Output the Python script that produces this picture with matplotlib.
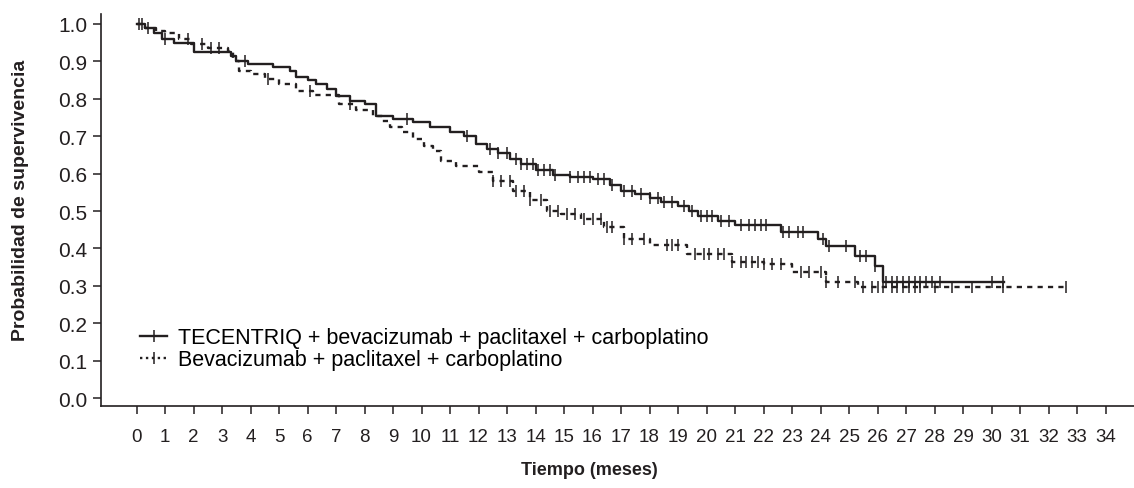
import numpy as np
import matplotlib
matplotlib.use('Agg')
import matplotlib.pyplot as plt
from matplotlib.lines import Line2D

# Kaplan-Meier steps (months, survival probability)
atezo_t = [0, 0.3, 0.6, 0.9, 1.3, 2.0, 3.3, 3.5, 3.9, 4.8, 5.4, 5.6, 6.0, 6.3, 6.7,
           7.0, 7.5, 8.0, 8.4, 9.0, 9.7, 10.3, 11.0, 11.5, 11.9, 12.3, 12.7, 13.1,
           13.5, 14.0, 14.6, 15.2, 16.0, 16.6, 17.0, 17.5, 18.0, 18.4, 19.0, 19.4,
           19.7, 20.4, 21.0, 22.6, 23.9, 24.2, 25.2, 25.9, 26.2, 30.43]
atezo_s = [1.0, 0.99, 0.975, 0.96, 0.95, 0.925, 0.915, 0.90, 0.894, 0.885, 0.875,
           0.858, 0.85, 0.839, 0.825, 0.808, 0.795, 0.786, 0.754, 0.745, 0.737,
           0.725, 0.711, 0.70, 0.679, 0.665, 0.655, 0.64, 0.625, 0.61, 0.597, 0.59,
           0.585, 0.57, 0.553, 0.545, 0.535, 0.523, 0.514, 0.50, 0.487, 0.474,
           0.462, 0.443, 0.425, 0.407, 0.38, 0.353, 0.309, 0.309]

bev_t = [0, 0.3, 0.7, 1.0, 1.5, 1.9, 2.5, 3.2, 3.4, 3.6, 4.0, 4.5, 5.0, 5.6, 6.2,
         7.1, 7.7, 8.3, 8.6, 8.9, 9.3, 9.7, 10.1, 10.4, 10.7, 11.2, 12.0, 12.5,
         13.2, 13.8, 14.4, 14.9, 15.6, 16.4, 17.1, 18.0, 19.3, 20.9, 22.0, 23.0,
         24.2, 25.3, 32.6]
bev_s = [1.0, 0.99, 0.98, 0.975, 0.96, 0.946, 0.935, 0.928, 0.90, 0.874, 0.865,
         0.852, 0.84, 0.821, 0.81, 0.786, 0.77, 0.754, 0.74, 0.724, 0.71, 0.692,
         0.675, 0.66, 0.634, 0.62, 0.603, 0.58, 0.554, 0.53, 0.50, 0.492, 0.478,
         0.456, 0.425, 0.409, 0.385, 0.364, 0.358, 0.336, 0.311, 0.296, 0.296]

# censored observations (months)
atezo_cens = [0.1, 1.0, 3.8, 9.5, 11.6, 12.4, 12.7, 13.0, 13.3, 13.5, 13.7, 13.9,
              14.1, 14.3, 14.5, 14.7, 15.2, 15.5, 15.7, 15.9, 16.2, 16.4, 16.7,
              17.1, 17.4, 17.7, 18.0, 18.3, 18.5, 18.8, 19.2, 19.5, 19.8, 20.0,
              20.2, 20.5, 20.8, 21.2, 21.5, 21.7, 21.9, 22.1, 22.7, 22.9, 23.2,
              23.4, 24.1, 24.3, 24.9, 25.4, 25.6, 25.9, 26.3, 26.5, 26.7, 26.9,
              27.1, 27.3, 27.5, 27.7, 27.9, 28.2, 30.0, 30.4]
bev_cens = [0.2, 0.4, 1.8, 2.3, 2.6, 2.9, 4.6, 6.1, 7.5, 12.5, 12.8, 13.1, 13.3,
            13.6, 13.8, 14.2, 14.5, 14.8, 15.1, 15.4, 15.7, 16.0, 16.3, 16.5,
            16.7, 17.1, 17.4, 17.8, 18.6, 18.8, 19.0, 19.6, 19.9, 20.1, 20.4,
            20.6, 20.9, 21.2, 21.4, 21.6, 21.8, 22.0, 22.3, 22.6, 23.3, 23.6,
            24.0, 24.2, 24.6, 25.2, 25.5, 25.8, 26.0, 26.2, 26.5, 26.7, 26.9,
            27.1, 27.3, 27.5, 28.0, 28.6, 29.3, 30.4, 32.6]

labels = ['TECENTRIQ + bevacizumab + paclitaxel + carboplatino',
          'Bevacizumab + paclitaxel + carboplatino']
xticks = list(range(0, 35))
yticks = [0.0, 0.1, 0.2, 0.3, 0.4, 0.5, 0.6, 0.7, 0.8, 0.9, 1.0]

plt.rcParams['font.family'] = ['Liberation Sans', 'DejaVu Sans']
col = '#231f20'
dash = (0, (2.2, 2.2))

fig = plt.figure(figsize=(11.34, 4.89), dpi=100)
ax = fig.add_axes([0.089, 0.168, 0.911, 0.801])


def step_at(t, s, x):
    idx = np.searchsorted(t, x, side='right') - 1
    return np.asarray(s)[idx]


ax.step(atezo_t, atezo_s, where='post', color=col, lw=1.7)
ax.step(bev_t, bev_s, where='post', color=col, lw=1.7, linestyle=dash)
ax.plot(atezo_cens, step_at(atezo_t, atezo_s, atezo_cens), linestyle='none',
        marker='|', ms=8, mew=1.1, color=col)
ax.plot(bev_cens, step_at(bev_t, bev_s, bev_cens), linestyle='none',
        marker='|', ms=8, mew=1.1, color=col)

ax.set_xlim(-1.25, 35.0)
ax.set_ylim(-0.0206, 1.026)
ax.spines['top'].set_visible(False)
ax.spines['right'].set_visible(False)
for sp in ['left', 'bottom']:
    ax.spines[sp].set_linewidth(1.2)
    ax.spines[sp].set_color(col)

ax.set_xticks(xticks)
ax.set_xticklabels([str(v) for v in xticks])
ax.set_yticks(yticks)
ax.set_yticklabels(['%.1f' % v for v in yticks])
ax.tick_params(axis='x', length=6, width=1.1, pad=10, labelsize=13.5, colors=col)
ax.tick_params(axis='y', length=6, width=1.1, pad=4, labelsize=15, colors=col)

ax.set_xlabel('Tiempo (meses)', fontsize=13, fontweight='bold', color=col)
ax.xaxis.set_label_coords(0.473, -0.14)
ax.set_ylabel('Probabilidad de supervivencia', fontsize=14, fontweight='bold',
              color=col)
ax.yaxis.set_label_coords(-0.07, 0.528)

handles = [
    Line2D([], [], color=col, lw=1.7, marker='|', ms=8, mew=1.1),
    Line2D([], [], color=col, lw=1.7, linestyle=(0, (1, 1.5)), marker='|', ms=8,
           mew=1.1),
]
ax.legend(handles, labels, loc='upper left', bbox_to_anchor=(0.038, 0.201),
          frameon=False, fontsize=15.5, handlelength=1.25, handletextpad=0.5,
          labelspacing=0.05, borderaxespad=0, borderpad=0, numpoints=1)

fig.savefig('out.png', dpi=100)
